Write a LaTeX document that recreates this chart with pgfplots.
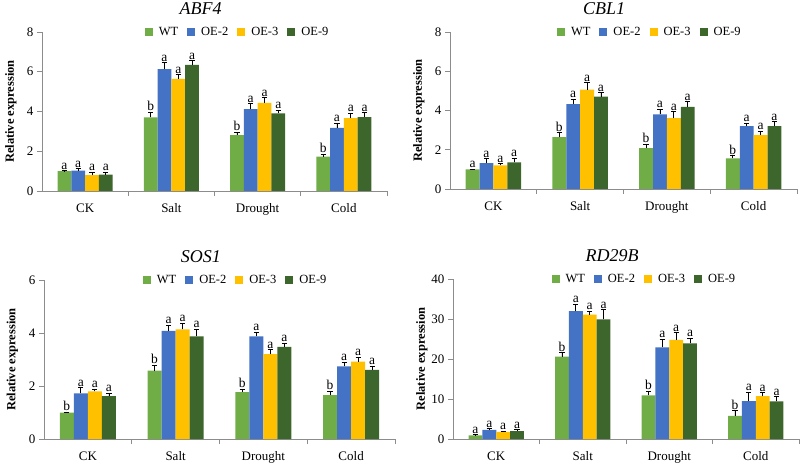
\documentclass[border=0pt]{standalone}
\usepackage{fontspec}
\setmainfont{Liberation Serif}
\usepackage{pgfplots}
\usepackage{pgfplotstable}
\pgfplotsset{compat=1.18}
\definecolor{cWT}{HTML}{70AD47}
\definecolor{cOEa}{HTML}{4472C4}
\definecolor{cOEb}{HTML}{FFC000}
\definecolor{cOEc}{HTML}{3D662D}
\definecolor{axgray}{HTML}{8C8C8C}

\pgfplotstableread{
x y1 e1 l1 y2 e2 l2 y3 e3 l3 y4 e4 l4
0 1.00 0.02 a 1.03 0.10 a 0.80 0.14 a 0.83 0.12 a
1 3.70 0.25 b 6.13 0.33 a 5.64 0.22 a 6.35 0.20 a
2 2.81 0.14 b 4.12 0.28 a 4.44 0.25 a 3.90 0.17 a
3 1.73 0.12 b 3.18 0.22 a 3.67 0.24 a 3.72 0.22 a
}\tabABF

\pgfplotstableread{
x y1 e1 l1 y2 e2 l2 y3 e3 l3 y4 e4 l4
0 1.00 0.02 a 1.32 0.22 a 1.20 0.08 a 1.36 0.22 a
1 2.64 0.22 b 4.32 0.24 a 5.07 0.34 a 4.71 0.20 a
2 2.08 0.19 b 3.80 0.25 a 3.61 0.32 a 4.19 0.25 a
3 1.56 0.14 b 3.20 0.14 a 2.75 0.20 a 3.20 0.22 a
}\tabCBL

\pgfplotstableread{
x y1 e1 l1 y2 e2 l2 y3 e3 l3 y4 e4 l4
0 1.00 0.02 b 1.72 0.21 a 1.80 0.09 a 1.62 0.10 a
1 2.58 0.21 b 4.08 0.22 a 4.14 0.22 a 3.87 0.27 a
2 1.77 0.12 b 3.87 0.15 a 3.20 0.17 a 3.48 0.14 a
3 1.66 0.15 b 2.74 0.15 a 2.92 0.16 a 2.61 0.13 a
}\tabSOS

\pgfplotstableread{
x y1 e1 l1 y2 e2 l2 y3 e3 l3 y4 e4 l4
0 0.90 0.15 a 2.30 0.25 a 1.80 0.20 a 2.00 0.30 a
1 20.6 1.00 b 32.0 1.70 a 31.1 0.80 a 29.9 2.40 a
2 10.9 1.10 b 22.9 2.10 a 24.8 1.80 a 23.9 1.30 a
3 5.80 1.30 b 9.50 2.20 a 10.7 0.90 a 9.40 1.20 a
}\tabRD

\pgfplotsset{
  panel/.style={
    scale only axis, ybar, bar width=0.16,
    xmin=-0.5, xmax=3.5, ymin=0,
    axis x line*=bottom, axis y line*=left,
    axis line style={axgray, line width=0.9pt},
    every tick/.style={axgray, line width=0.8pt},
    tick align=outside,
    xtick={0,1,2,3}, xticklabels={CK,Salt,Drought,Cold},
    major x tick style={draw=none},
    minor xtick={0.5,1.5,2.5,3.5},
    major tick length=5pt, minor tick length=5pt,
    tick label style={font=\fontsize{13}{13}\selectfont, text=black},
    xticklabel style={yshift=-4pt},
    /pgf/number format/assume math mode=true,
    ylabel={Relative expression},
    ylabel style={at={(axis description cs:-0.09,0.5)}, anchor=center,
      font=\fontsize{12.5}{12.5}\selectfont\bfseries},
    title style={anchor=center, yshift=17pt, font=\fontsize{18}{18}\selectfont\itshape},
    legend columns=4,
    legend style={draw=none, fill=none, anchor=center,
      font=\fontsize{12.5}{12.5}\selectfont, inner sep=0pt,
      /tikz/every odd column/.append style={column sep=4pt},
      /tikz/every even column/.append style={column sep=7pt}},
  },
  lg/.style={draw=none, fill=#1,
    legend image code/.code={\fill[#1] (0pt,-4pt) rectangle (8pt,4pt);},
    error bars/y dir=plus, error bars/y explicit,
    error bars/error bar style={black, line width=0.8pt},
    error bars/error mark options={rotate=90, black, mark size=2.6pt, line width=0.8pt}},
  lbl/.style={forget plot, draw=none, fill=none, nodes near coords,
    point meta=explicit symbolic,
    nodes near coords style={anchor=south, inner sep=1.2pt, text=black,
      font=\fontsize{13.5}{13.5}\selectfont}},
}

\newcommand{\panelplots}[1]{%
  \addplot[lg=cWT, bar shift=-0.24] table[x=x, y=y1, y error=e1]{#1};
  \addplot[lg=cOEa, bar shift=-0.08] table[x=x, y=y2, y error=e2]{#1};
  \addplot[lg=cOEb, bar shift=0.08] table[x=x, y=y3, y error=e3]{#1};
  \addplot[lg=cOEc, bar shift=0.24] table[x=x, y=y4, y error=e4]{#1};
  \addplot[lbl, bar shift=-0.24] table[x=x, y expr=\thisrow{y1}+\thisrow{e1}, meta=l1]{#1};
  \addplot[lbl, bar shift=-0.08] table[x=x, y expr=\thisrow{y2}+\thisrow{e2}, meta=l2]{#1};
  \addplot[lbl, bar shift=0.08] table[x=x, y expr=\thisrow{y3}+\thisrow{e3}, meta=l3]{#1};
  \addplot[lbl, bar shift=0.24] table[x=x, y expr=\thisrow{y4}+\thisrow{e4}, meta=l4]{#1};
  \legend{WT, OE-2, OE-3, OE-9}
}

\begin{document}
\begin{tikzpicture}
\path[use as bounding box] (0,0) rectangle (800pt,464pt);

\begin{axis}[panel, at={(42pt,273pt)}, anchor=south west,
  width=345pt, height=159pt, ymax=8, ytick={0,2,4,6,8},
  title={ABF4}, title style={at={(0.46,1)}},
  legend style={at={(0.567,1)}}]
\panelplots{\tabABF}
\end{axis}

\begin{axis}[panel, at={(450pt,275pt)}, anchor=south west,
  width=347pt, height=157pt, ymax=8, ytick={0,2,4,6,8},
  title={CBL1}, title style={at={(0.444,1)}},
  legend style={at={(0.576,1)}}]
\panelplots{\tabCBL}
\end{axis}

\begin{axis}[panel, at={(44pt,25pt)}, anchor=south west,
  width=351pt, height=159pt, ymax=6, ytick={0,2,4,6},
  title={SOS1}, title style={at={(0.447,1)}},
  legend style={at={(0.546,1)}}]
\panelplots{\tabSOS}
\end{axis}

\begin{axis}[panel, at={(453pt,25pt)}, anchor=south west,
  width=346pt, height=160pt, ymax=40, ytick={0,10,20,30,40},
  title={RD29B}, title style={at={(0.46,1)}},
  legend style={at={(0.553,1)}}]
\panelplots{\tabRD}
\end{axis}
\end{tikzpicture}
\end{document}
